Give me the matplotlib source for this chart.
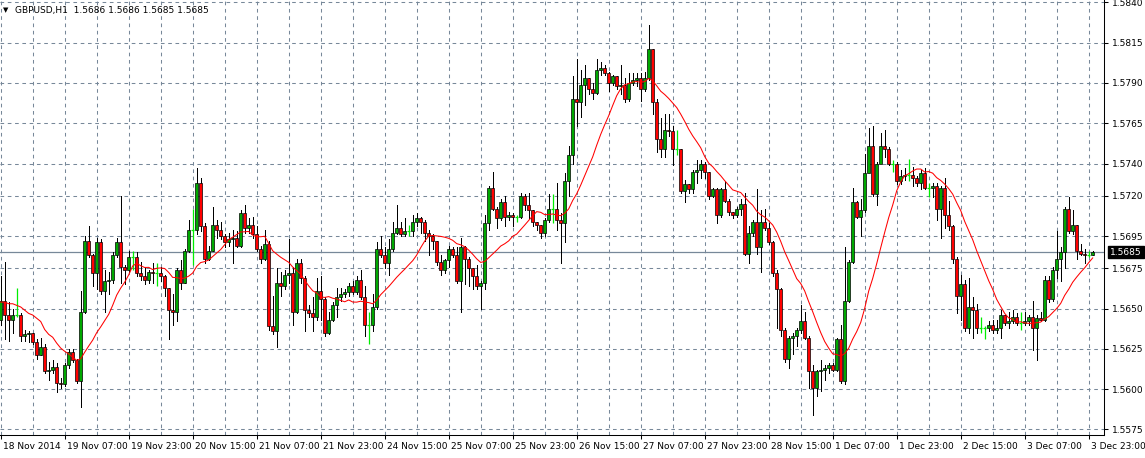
import numpy as np
import pandas as pd
import matplotlib
matplotlib.use("Agg")
from matplotlib import pyplot as plt
from matplotlib import transforms

# GBPUSD H1 bars, 18 Nov 2014 15:00 .. 3 Dec 23:00
first_open = 1.5643
closes = [
    1.5655, 1.5646, 1.5643, 1.5646, 1.5646, 1.5633, 1.5634, 1.5635, 1.5629, 1.5621,
    1.5626, 1.5611, 1.5612, 1.5614, 1.5604, 1.5603, 1.5615, 1.5623, 1.5618, 1.5605,
    1.5648, 1.5692, 1.5683, 1.5672, 1.5691, 1.5661, 1.5667, 1.5668, 1.5683, 1.5691,
    1.5676, 1.5674, 1.5682, 1.5682, 1.5672, 1.5670, 1.5668, 1.5673, 1.5672, 1.5672,
    1.5670, 1.5663, 1.5649, 1.5648, 1.5674, 1.5666, 1.5686, 1.5699, 1.5699, 1.5728,
    1.5701, 1.5681, 1.5686, 1.5702, 1.5699, 1.5695, 1.5691, 1.5693, 1.5694, 1.5689,
    1.5709, 1.5700, 1.5702, 1.5696, 1.5687, 1.5681, 1.5690, 1.5639, 1.5636, 1.5666,
    1.5664, 1.5671, 1.5672, 1.5648, 1.5678, 1.5669, 1.5649, 1.5647, 1.5645, 1.5661,
    1.5656, 1.5635, 1.5643, 1.5652, 1.5657, 1.5659, 1.5660, 1.5664, 1.5660, 1.5668,
    1.5657, 1.5640, 1.5640, 1.5651, 1.5687, 1.5683, 1.5678, 1.5687, 1.5697, 1.5700,
    1.5696, 1.5698, 1.5698, 1.5704, 1.5706, 1.5704, 1.5697, 1.5695, 1.5692, 1.5679,
    1.5674, 1.5680, 1.5687, 1.5683, 1.5667, 1.5688, 1.5681, 1.5675, 1.5670, 1.5664,
    1.5666, 1.5703, 1.5725, 1.5712, 1.5706, 1.5716, 1.5707, 1.5708, 1.5707, 1.5707,
    1.5720, 1.5714, 1.5711, 1.5704, 1.5702, 1.5697, 1.5705, 1.5712, 1.5712, 1.5705,
    1.5703, 1.5729, 1.5745, 1.5780, 1.5778, 1.5789, 1.5793, 1.5786, 1.5784, 1.5798,
    1.5799, 1.5796, 1.5790, 1.5794, 1.5788, 1.5789, 1.5780, 1.5790, 1.5792, 1.5793,
    1.5786, 1.5793, 1.5811, 1.5778, 1.5755, 1.5749, 1.5761, 1.5760, 1.5749, 1.5749,
    1.5723, 1.5727, 1.5724, 1.5735, 1.5736, 1.5740, 1.5735, 1.5720, 1.5724, 1.5708,
    1.5724, 1.5717, 1.5710, 1.5708, 1.5712, 1.5715, 1.5684, 1.5697, 1.5704, 1.5688,
    1.5704, 1.5700, 1.5691, 1.5672, 1.5662, 1.5637, 1.5619, 1.5632, 1.5633, 1.5637,
    1.5642, 1.5632, 1.5611, 1.5601, 1.5611, 1.5612, 1.5613, 1.5615, 1.5612, 1.5631,
    1.5605, 1.5655, 1.5679, 1.5716, 1.5707, 1.5711, 1.5734, 1.5751, 1.5721, 1.5740,
    1.5751, 1.5749, 1.5740, 1.5740, 1.5729, 1.5732, 1.5733, 1.5733, 1.5731, 1.5728,
    1.5734, 1.5725, 1.5725, 1.5726, 1.5712, 1.5725, 1.5708, 1.5701, 1.5681, 1.5658,
    1.5665, 1.5638, 1.5651, 1.5649, 1.5638, 1.5638, 1.5638, 1.5640, 1.5637, 1.5638,
    1.5646, 1.5641, 1.5642, 1.5645, 1.5641, 1.5641, 1.5642, 1.5645, 1.5638, 1.5644,
    1.5643, 1.5668, 1.5656, 1.5674, 1.5681, 1.5685, 1.5712, 1.5698, 1.5702, 1.5686,
    1.5684, 1.5683, 1.5683, 1.5685,
]
highs = [
    1.5670, 1.5679, 1.5654, 1.5650, 1.5663, 1.5647, 1.5637, 1.5636, 1.5635, 1.5631,
    1.5632, 1.5628, 1.5617, 1.5618, 1.5616, 1.5607, 1.5616, 1.5625, 1.5625, 1.5619,
    1.5661, 1.5695, 1.5701, 1.5684, 1.5694, 1.5693, 1.5674, 1.5673, 1.5685, 1.5694,
    1.5720, 1.5677, 1.5686, 1.5686, 1.5685, 1.5679, 1.5676, 1.5674, 1.5678, 1.5678,
    1.5676, 1.5671, 1.5663, 1.5659, 1.5675, 1.5680, 1.5687, 1.5705, 1.5712, 1.5737,
    1.5731, 1.5703, 1.5689, 1.5713, 1.5705, 1.5704, 1.5696, 1.5697, 1.5699, 1.5698,
    1.5711, 1.5714, 1.5706, 1.5707, 1.5701, 1.5689, 1.5699, 1.5692, 1.5658, 1.5675,
    1.5673, 1.5674, 1.5693, 1.5676, 1.5681, 1.5681, 1.5670, 1.5652, 1.5657, 1.5669,
    1.5670, 1.5657, 1.5648, 1.5654, 1.5663, 1.5663, 1.5662, 1.5666, 1.5667, 1.5670,
    1.5674, 1.5664, 1.5648, 1.5659, 1.5691, 1.5695, 1.5688, 1.5693, 1.5704, 1.5714,
    1.5704, 1.5706, 1.5702, 1.5708, 1.5709, 1.5707, 1.5705, 1.5699, 1.5696, 1.5692,
    1.5683, 1.5681, 1.5689, 1.5688, 1.5688, 1.5694, 1.5689, 1.5682, 1.5675, 1.5677,
    1.5667, 1.5708, 1.5726, 1.5735, 1.5713, 1.5718, 1.5720, 1.5710, 1.5709, 1.5708,
    1.5722, 1.5721, 1.5722, 1.5711, 1.5704, 1.5702, 1.5706, 1.5721, 1.5721, 1.5728,
    1.5709, 1.5734, 1.5751, 1.5794, 1.5805, 1.5798, 1.5801, 1.5793, 1.5790, 1.5805,
    1.5803, 1.5801, 1.5797, 1.5795, 1.5794, 1.5801, 1.5793, 1.5796, 1.5796, 1.5796,
    1.5796, 1.5797, 1.5826, 1.5811, 1.5780, 1.5768, 1.5771, 1.5771, 1.5763, 1.5761,
    1.5749, 1.5730, 1.5727, 1.5736, 1.5742, 1.5742, 1.5741, 1.5735, 1.5725, 1.5725,
    1.5725, 1.5729, 1.5718, 1.5710, 1.5713, 1.5718, 1.5722, 1.5701, 1.5705, 1.5724,
    1.5711, 1.5712, 1.5703, 1.5692, 1.5674, 1.5663, 1.5638, 1.5633, 1.5635, 1.5638,
    1.5652, 1.5648, 1.5633, 1.5615, 1.5612, 1.5618, 1.5615, 1.5616, 1.5616, 1.5632,
    1.5640, 1.5688, 1.5680, 1.5725, 1.5717, 1.5718, 1.5746, 1.5762, 1.5763, 1.5741,
    1.5759, 1.5761, 1.5750, 1.5742, 1.5741, 1.5736, 1.5737, 1.5743, 1.5738, 1.5732,
    1.5736, 1.5737, 1.5728, 1.5728, 1.5728, 1.5726, 1.5731, 1.5717, 1.5702, 1.5682,
    1.5671, 1.5668, 1.5669, 1.5657, 1.5653, 1.5645, 1.5639, 1.5642, 1.5643, 1.5643,
    1.5649, 1.5646, 1.5648, 1.5649, 1.5647, 1.5648, 1.5648, 1.5646, 1.5655, 1.5646,
    1.5648, 1.5670, 1.5670, 1.5676, 1.5698, 1.5688, 1.5713, 1.5719, 1.5711, 1.5702,
    1.5690, 1.5687, 1.5686, 1.5686,
]
lows = [
    1.5640, 1.5631, 1.5630, 1.5635, 1.5645, 1.5630, 1.5630, 1.5629, 1.5628, 1.5619,
    1.5621, 1.5610, 1.5606, 1.5610, 1.5598, 1.5601, 1.5602, 1.5613, 1.5617, 1.5604,
    1.5589, 1.5647, 1.5682, 1.5664, 1.5662, 1.5659, 1.5648, 1.5659, 1.5666, 1.5682,
    1.5666, 1.5665, 1.5673, 1.5674, 1.5670, 1.5668, 1.5665, 1.5666, 1.5666, 1.5664,
    1.5667, 1.5658, 1.5631, 1.5640, 1.5642, 1.5662, 1.5666, 1.5685, 1.5677, 1.5696,
    1.5698, 1.5678, 1.5680, 1.5686, 1.5694, 1.5693, 1.5688, 1.5689, 1.5678, 1.5688,
    1.5688, 1.5697, 1.5697, 1.5694, 1.5686, 1.5678, 1.5680, 1.5637, 1.5634, 1.5626,
    1.5658, 1.5662, 1.5666, 1.5640, 1.5647, 1.5666, 1.5636, 1.5645, 1.5636, 1.5643,
    1.5643, 1.5633, 1.5634, 1.5642, 1.5645, 1.5655, 1.5657, 1.5658, 1.5659, 1.5659,
    1.5656, 1.5633, 1.5628, 1.5636, 1.5650, 1.5682, 1.5675, 1.5671, 1.5686, 1.5696,
    1.5695, 1.5695, 1.5695, 1.5695, 1.5701, 1.5697, 1.5692, 1.5683, 1.5687, 1.5677,
    1.5671, 1.5672, 1.5676, 1.5682, 1.5666, 1.5648, 1.5665, 1.5664, 1.5662, 1.5662,
    1.5650, 1.5662, 1.5699, 1.5711, 1.5700, 1.5705, 1.5701, 1.5705, 1.5701, 1.5704,
    1.5706, 1.5711, 1.5706, 1.5701, 1.5699, 1.5694, 1.5695, 1.5704, 1.5703, 1.5699,
    1.5678, 1.5691, 1.5720, 1.5740, 1.5763, 1.5769, 1.5776, 1.5783, 1.5780, 1.5783,
    1.5795, 1.5795, 1.5785, 1.5789, 1.5786, 1.5783, 1.5778, 1.5779, 1.5789, 1.5788,
    1.5779, 1.5785, 1.5792, 1.5771, 1.5747, 1.5744, 1.5744, 1.5757, 1.5739, 1.5745,
    1.5722, 1.5716, 1.5722, 1.5722, 1.5728, 1.5731, 1.5731, 1.5718, 1.5719, 1.5703,
    1.5707, 1.5716, 1.5708, 1.5706, 1.5707, 1.5708, 1.5683, 1.5678, 1.5695, 1.5684,
    1.5673, 1.5699, 1.5690, 1.5670, 1.5638, 1.5633, 1.5617, 1.5613, 1.5622, 1.5627,
    1.5635, 1.5631, 1.5601, 1.5584, 1.5596, 1.5599, 1.5606, 1.5610, 1.5611, 1.5611,
    1.5604, 1.5603, 1.5654, 1.5678, 1.5706, 1.5695, 1.5710, 1.5735, 1.5720, 1.5714,
    1.5741, 1.5744, 1.5739, 1.5735, 1.5727, 1.5727, 1.5730, 1.5729, 1.5726, 1.5726,
    1.5724, 1.5724, 1.5719, 1.5719, 1.5705, 1.5694, 1.5700, 1.5699, 1.5678, 1.5647,
    1.5643, 1.5636, 1.5635, 1.5632, 1.5635, 1.5635, 1.5631, 1.5636, 1.5635, 1.5635,
    1.5632, 1.5640, 1.5638, 1.5641, 1.5640, 1.5637, 1.5640, 1.5640, 1.5624, 1.5618,
    1.5642, 1.5642, 1.5654, 1.5655, 1.5669, 1.5667, 1.5675, 1.5697, 1.5696, 1.5681,
    1.5683, 1.5678, 1.5682, 1.5683,
]
# moving average for the first bars (its earlier history is off the chart)
ma_head = [1.5654, 1.5654, 1.5653, 1.5653, 1.5652, 1.5651, 1.5649, 1.5647,
           1.5646, 1.5644, 1.5642, 1.5637, 1.5634]
ma_period = 14

price_ticks = [1.5840, 1.5815, 1.5790, 1.5765, 1.5740, 1.5720, 1.5695,
               1.5675, 1.5650, 1.5625, 1.5600, 1.5575]
time_labels = ["18 Nov 2014", "19 Nov 07:00", "19 Nov 23:00", "20 Nov 15:00",
               "21 Nov 07:00", "21 Nov 23:00", "24 Nov 15:00", "25 Nov 07:00",
               "25 Nov 23:00", "26 Nov 15:00", "27 Nov 07:00", "27 Nov 23:00",
               "28 Nov 15:00", "1 Dec 07:00", "1 Dec 23:00", "2 Dec 15:00",
               "3 Dec 07:00", "3 Dec 23:00"]
bid = 1.5685
title = "GBPUSD,H1  1.5686 1.5686 1.5685 1.5685"

closes = np.array(closes)
highs = np.array(highs)
lows = np.array(lows)
assert len(closes) == len(highs) == len(lows)
# hourly fx bars open where the previous one closed
opens = np.r_[first_open, closes[:-1]]
n = len(closes)
x = np.arange(n)

ma = pd.Series(closes).rolling(ma_period).mean().to_numpy()
ma[:len(ma_head)] = ma_head

plt.rcParams['font.family'] = ['DejaVu Sans']
fig = plt.figure(figsize=(11.45, 4.58), dpi=100)
ax = fig.add_axes([0, 23 / 458, 1104 / 1145, 435 / 458])
ax.set_xlim(-0.175, 275.825)
ax.set_ylim(1.557158, 1.584143)

grid_col = '#778899'
dash = (0, (3.5, 3.5))
for p in price_ticks:
    ax.axhline(p, color=grid_col, lw=0.75, ls=dash, zorder=0)
for i in range(0, n, 8):
    ax.axvline(i, color=grid_col, lw=0.75, ls=dash, zorder=0)
ax.axhline(bid, color=grid_col, lw=0.9, zorder=1)

up = closes > opens + 1e-6
down = closes < opens - 1e-6
doji = ~(up | down)

ax.vlines(x[~doji], lows[~doji], highs[~doji], color='black', lw=0.72,
          antialiased=False, zorder=2)
ax.bar(x[up], (closes - opens)[up], bottom=opens[up], width=0.62,
       color='#00a800', edgecolor='black', linewidth=0.5, zorder=3)
ax.bar(x[down], (opens - closes)[down], bottom=closes[down], width=0.62,
       color='#ff0000', edgecolor='black', linewidth=0.5, zorder=3)
# doji bars are drawn in lime
ax.vlines(x[doji], lows[doji], highs[doji], color='#00ee00', lw=0.9, zorder=3)
ax.hlines(closes[doji], x[doji] - 0.4, x[doji] + 0.4, color='#00ee00', lw=0.9,
          zorder=3)
ax.plot(x, ma, color='red', lw=0.75, zorder=4)

for s in ['top', 'left']:
    ax.spines[s].set_visible(False)
for s in ['right', 'bottom']:
    ax.spines[s].set_linewidth(0.75)
    ax.spines[s].set_color('black')

ax.yaxis.tick_right()
ax.set_yticks(price_ticks)
ax.set_yticklabels(['%.4f' % p for p in price_ticks])
ax.set_xticks(np.arange(0, n, 16)[:len(time_labels)])
ax.set_xticklabels(time_labels)
ax.tick_params(axis='y', length=3, width=0.75, pad=3, labelsize=6.5)
ax.tick_params(axis='x', length=3, width=0.75, pad=2, labelsize=6.5)
shift = transforms.ScaledTranslation(2 / 100, 0, fig.dpi_scale_trans)
for lab in ax.get_xticklabels():
    lab.set_horizontalalignment('left')
    lab.set_transform(lab.get_transform() + shift)

ax.annotate('%.4f' % bid, xy=(1, bid), xycoords=('axes fraction', 'data'),
            xytext=(4.5, 0), textcoords='offset points', va='center', ha='left',
            color='white', fontsize=6.5,
            bbox=dict(boxstyle='square,pad=0.2', fc='black', ec='black'))

fig.text(3 / 1145, 1 - 10 / 458, '\u25bc', fontsize=5, va='center', ha='left')
fig.text(15 / 1145, 1 - 10 / 458, title, fontsize=6.5, va='center', ha='left')

fig.savefig('out.png', dpi=100)
